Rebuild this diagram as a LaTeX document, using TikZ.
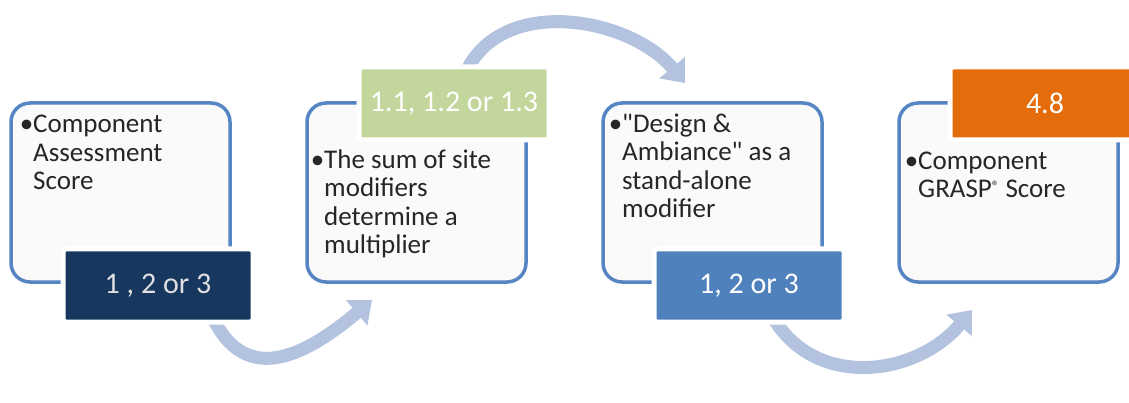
\documentclass[tikz,border=0pt]{standalone}
\usepackage{fontspec}
\setmainfont{Carlito}[Ligatures=TeXOff]
\usepackage{tikz}
\usetikzlibrary{arrows.meta,positioning}
\definecolor{framebl}{HTML}{5585C3}
\definecolor{navy}{HTML}{17375E}
\definecolor{sage}{HTML}{C3D69B}
\definecolor{steel}{HTML}{4F81BD}
\definecolor{pumpkin}{HTML}{E46C0A}
\definecolor{haze}{HTML}{B3C3DF}
\definecolor{ink}{HTML}{262626}

\begin{document}
\begin{tikzpicture}[x=1pt, y=1pt,
    stage/.style={draw=framebl, line width=3.5pt, fill=black!2, rounded corners=19pt,
      minimum width=219pt, minimum height=179pt, anchor=north west, inner sep=0pt, outer sep=0pt},
    score/.style={draw=white, line width=5pt, rounded corners=3pt, text=white,
      minimum width=190pt, minimum height=73pt, anchor=north west, inner sep=0pt, outer sep=0pt,
      font=\fontsize{30}{32}\selectfont},
    item/.style={text=ink, align=left, anchor=base west, inner sep=0pt,
      font=\fontsize{27}{28.5}\selectfont},
    flow/.style={draw=haze, line width=13pt, -{Triangle[width=32pt,length=20pt]}}]
    \fill[white] (0,0) rectangle (1129,-403);
    \useasboundingbox (0,0) rectangle (1129,-403);
    % curved connectors, tails hidden under the score boxes
    \coordinate (a1s) at (212,-316);
    \coordinate (a1e) at (372,-300);
    \coordinate (a2s) at (466,-72);
    \coordinate (a2e) at (685,-83);
    \coordinate (a3s) at (772,-316);
    \coordinate (a3e) at (972,-310);
    \draw[flow] (a1s) to[out=-65, in=-140, looseness=1.3] (a1e);
    \draw[flow] (a2s) to[out=65, in=130] (a2e);
    \draw[flow] (a3s) to[out=-60, in=-130, looseness=1.1] (a3e);
    % stages (base anchor = last line)
    \node[stage] (b1) at (11,-103) {};
    \node[stage] (b2) at (307,-103) {};
    \node[stage] (b3) at (603,-103) {};
    \node[stage] (b4) at (899,-103) {};
    \node[item] (t1) at (33,-190) {\llap{\textbullet}Component\\Assessment\\Score};
    \node[item] (t2) at (324,-254) {\llap{\textbullet}The sum of site\\modifiers\\determine a\\multiplier};
    \node[item] (t3) at (622,-218) {\llap{\textbullet}"Design \&\\Ambiance" as a\\stand-alone\\modifier};
    \node[item] (t4) at (918,-198) {\llap{\textbullet}Component\\GRASP\raisebox{6pt}{\fontsize{15}{15}\selectfont ®} Score};
    % scores
    \node[score, fill=navy, text=white!88!black] (s1) at (63,-249) {1 , 2 or 3};
    \node[score, fill=sage] (s2) at (359,-67) {1.1, 1.2 or 1.3};
    \node[score, fill=steel] (s3) at (654,-249) {1, 2 or 3};
    \node[score, fill=pumpkin] (s4) at (950,-67) {4.8};
  \end{tikzpicture}
\end{document}
